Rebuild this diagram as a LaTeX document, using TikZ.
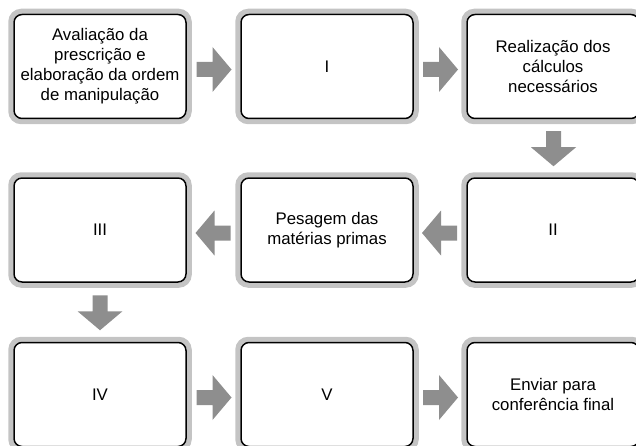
\documentclass[tikz,border=0pt]{standalone}
\usepackage{fontspec}
\setmainfont{Liberation Sans}
\usetikzlibrary{calc,backgrounds}
\definecolor{ringgray}{HTML}{C4C4C4}
\definecolor{arrgray}{HTML}{8E8E8E}
\newcommand\blockarrow[4]{%
  \path ($(#1)!0.5!(#2)+#4$) coordinate (m);
  \fill[arrowshape, shift={(m)}, rotate=#3]
    (-17,-7.5) -- (-1,-7.5) -- (-1,-22.5) -- (18,0) -- (-1,22.5) -- (-1,7.5) -- (-17,7.5) -- cycle;
}
\begin{document}
\begin{tikzpicture}[x=1pt,y=1pt,
  stepbox/.style={draw=black, line width=1.5pt, fill=white, rounded corners=8pt,
    minimum width=172pt, minimum height=104pt, inner sep=0pt, align=center,
    font=\fontsize{16.8}{20}\selectfont},
  ring/.style={draw=ringgray, line width=5pt, rounded corners=10.5pt},
  arrowshape/.style={fill=arrgray}]
\useasboundingbox (0,0) rectangle (636,445);

\node[stepbox] (a1) at (100,378.5) {Avaliação da\\prescrição e\\elaboração da ordem\\de manipulação};
\node[stepbox] (a2) at (327,378.5) {I};
\node[stepbox] (a3) at (553,378.5) {Realização dos\\cálculos\\necessários};
\node[stepbox] (b1) at (100,215) {III};
\node[stepbox] (b2) at (327,215) {Pesagem das\\matérias primas};
\node[stepbox] (b3) at (553,215) {II};
\node[stepbox] (c1) at (100,50.5) {IV};
\node[stepbox] (c2) at (327,50.5) {V};
\node[stepbox] (c3) at (553,50.5) {Enviar para\\conferência final};

\begin{scope}[on background layer]
\foreach \n in {a1,a2,a3,b1,b2,b3,c1,c2,c3}
  \draw[ring] ($(\n.south west)+(-2.5,-2.5)$) rectangle ($(\n.north east)+(2.5,2.5)$);
\end{scope}

\blockarrow{a1}{a2}{0}{(0,-3)}
\blockarrow{a2}{a3}{0}{(0,-3)}
\blockarrow{a3}{b3}{-90}{(0.5,0)}
\blockarrow{b3}{b2}{180}{(0,-3)}
\blockarrow{b2}{b1}{180}{(0,-3)}
\blockarrow{b1}{c1}{-90}{(0,0)}
\blockarrow{c1}{c2}{0}{(0,-3)}
\blockarrow{c2}{c3}{0}{(0,-3)}
\end{tikzpicture}
\end{document}
